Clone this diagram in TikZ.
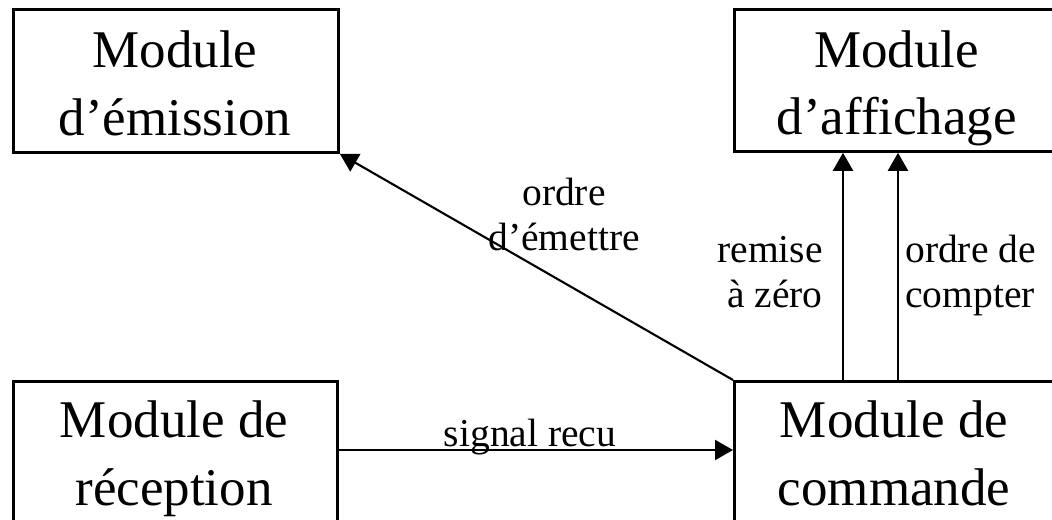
\documentclass[tikz,border=0pt]{standalone}
\usepackage{fontspec}
\setmainfont{Liberation Serif}
\usepackage{tikz}
\usetikzlibrary{positioning, arrows.meta}
\tikzset{
    modbox/.style={rectangle, draw, line width=2pt, inner sep=0pt, anchor=north west},
    modtext/.style={inner sep=0pt, align=center, anchor=base, font=\fontsize{37.7}{47.7}\selectfont},
    sigtext/.style={inner sep=0pt, font=\fontsize{28.1}{32}\selectfont},
    sigarrow/.style={line width=1.5pt, -{Triangle[length=4.5mm, width=5mm]}}
}

\begin{document}
\begin{tikzpicture}
    \path[use as bounding box, clip] (0,0) rectangle (26.3,12.975);

    % the four modules (right and bottom ones run off the page)
    \node[modbox, minimum width=8.125cm, minimum height=3.575cm] (emission) at (0.3,12.775) {};
    \node[modbox, minimum width=8.2cm, minimum height=3.55cm] (affichage) at (18.325,12.775) {};
    \node[modbox, minimum width=8.1cm, minimum height=5cm] (reception) at (0.3,3.475) {};
    \node[modbox, minimum width=8.2cm, minimum height=5cm] (commande) at (18.325,3.475) {};

    % base anchor sits on the last line
    \node[modtext] (emissiontxt) at (4.375,9.6) {Module\\d'émission};
    \node[modtext] (affichagetxt) at (22.42,9.62) {Module\\d'affichage};
    \node[modtext] (receptiontxt) at (4.35,0.35) {Module de\\réception};
    \node[modtext] (commandetxt) at (22.35,0.35) {Module de\\commande};

    % signals between modules
    \draw[sigarrow] ([yshift=-1.75cm]reception.north east) -- ([yshift=-1.75cm]commande.north west);
    \draw[sigarrow] (commande.north west) -- (emission.south east);
    \draw[sigarrow] ([xshift=2.75cm]commande.north west) -- ([xshift=2.75cm]affichage.south west);
    \draw[sigarrow] ([xshift=4.125cm]commande.north west) -- ([xshift=4.125cm]affichage.south west);

    \node[sigtext, anchor=base] (recu) at (13.25,1.82) {signal recu};
    \node[sigtext, align=center, anchor=base] (emettre) at (14.1,6.725) {ordre\\d'émettre};
    \node[sigtext, align=right, anchor=base east] (raz) at (20.575,5.3) {remise\\à zéro};
    \node[sigtext, align=left, anchor=base west] (compter) at (22.625,5.3) {ordre de\\compter};
\end{tikzpicture}
\end{document}
